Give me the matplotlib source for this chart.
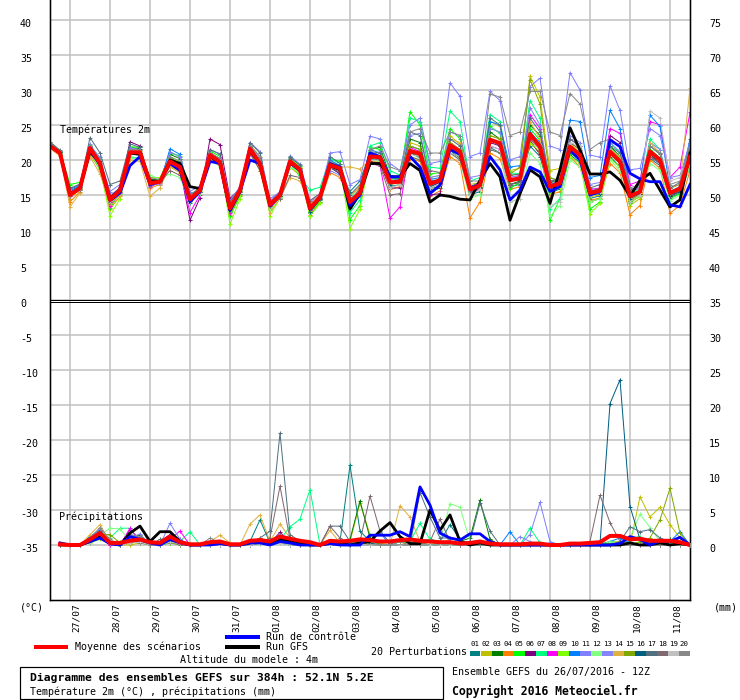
import numpy as np
import matplotlib
matplotlib.use("Agg")
import matplotlib.pyplot as plt
from matplotlib.lines import Line2D
from matplotlib.patches import Rectangle
from matplotlib.transforms import ScaledTranslation

# ---------------- data ----------------
HOURS = list(range(0, 385, 6))            # 65 steps, 26/07 12Z + 0..384h
HOURS_P = HOURS[1:]                       # precipitation accumulations (64 steps)
DATE_TICKS = [12 + 24 * k for k in range(16)]
DATE_LABELS = ["27/07", "28/07", "29/07", "30/07", "31/07", "01/08", "02/08", "03/08",
               "04/08", "05/08", "06/08", "07/08", "08/08", "09/08", "10/08", "11/08"]
LEFT_TICKS = list(range(-35, 41, 5))
RIGHT_TICKS = list(range(0, 76, 5))
MEMBER_NAMES = ["%02d" % k for k in range(1, 21)]
MEMBER_COLORS = ["#008080", "#c0c000", "#008000", "#ff8000", "#00ff00", "#800080",
                 "#00ff80", "#ff00ff", "#80ff00", "#0080ff", "#8080ff", "#80ff80",
                 "#8484f8", "#e0b040", "#80a800", "#006080", "#507080", "#806870",
                 "#c0c0c0", "#888888"]

# Temperature 2m (deg C)
T_MEAN = [22.0, 21.0, 15.0, 16.0, 21.7, 19.5, 14.3, 15.7,
          21.1, 21.1, 16.7, 16.9, 19.8, 19.0, 14.4, 15.7,
          20.7, 19.7, 13.1, 15.7, 21.6, 19.5, 13.6, 15.0,
          19.8, 18.6, 13.1, 14.7, 19.3, 18.8, 14.0, 15.3,
          20.5, 20.4, 16.8, 16.9, 21.3, 20.9, 16.6, 17.1,
          22.1, 21.2, 15.8, 16.4, 22.9, 22.4, 17.1, 17.4,
          23.7, 21.9, 16.2, 16.7, 21.9, 20.7, 15.3, 15.6,
          21.2, 19.8, 14.8, 15.5, 21.2, 20.0, 15.3, 15.9, 20.5]
T_CTRL = [22.0, 21.0, 15.2, 16.0, 21.5, 19.3, 14.2, 15.3,
          19.2, 20.5, 16.5, 16.9, 19.5, 18.5, 14.0, 15.5,
          19.8, 19.5, 12.8, 15.5, 20.0, 19.5, 13.4, 15.0,
          19.6, 18.5, 13.0, 14.8, 19.5, 19.0, 13.5, 15.0,
          21.0, 20.5, 17.6, 17.6, 20.5, 19.0, 15.2, 16.4,
          21.5, 20.8, 16.0, 16.5, 20.5, 18.6, 14.3, 15.7,
          19.0, 18.3, 15.5, 16.2, 21.4, 20.0, 15.0, 15.5,
          22.9, 21.9, 18.1, 17.3, 16.9, 16.9, 13.6, 13.3, 16.5]
T_GFS = [22.0, 21.0, 15.0, 16.0, 21.2, 19.5, 14.5, 15.8,
         21.0, 20.8, 17.0, 16.9, 20.0, 19.5, 16.2, 15.9,
         20.5, 19.5, 12.8, 15.5, 21.4, 19.3, 13.5, 15.0,
         19.8, 18.6, 13.0, 14.6, 19.2, 18.6, 13.0, 15.2,
         19.5, 19.5, 17.6, 17.6, 19.5, 18.5, 14.0, 15.0,
         14.8, 14.4, 14.3, 17.1, 19.5, 17.6, 11.4, 15.2,
         18.6, 17.6, 13.8, 18.6, 24.6, 21.4, 18.0, 18.0,
         18.3, 17.1, 14.8, 17.1, 18.1, 15.7, 13.3, 14.3, 21.0]

T_M01 = [22.3, 21.2, 15.6, 16.3, 21.5, 19.2, 14.8, 15.9, 20.8, 20.9, 16.2, 16.8, 20.4, 19.5, 13.9, 15.4,
         20.3, 19.6, 12.6, 15.2, 21.2, 19.7, 13.2, 14.8, 19.4, 18.2, 12.8, 14.5, 18.9, 18.1, 15.5, 17.0,
         21.0, 20.2, 16.2, 16.5, 22.0, 21.5, 15.8, 16.4, 21.4, 20.2, 15.0, 15.5, 21.8, 21.0, 16.2, 16.5,
         22.0, 20.5, 15.2, 15.9, 20.8, 19.6, 14.5, 14.9, 20.5, 19.0, 14.0, 14.8, 20.2, 19.2, 14.6, 15.3, 19.0]
T_M02 = [21.8, 20.9, 14.5, 15.8, 22.0, 19.8, 14.0, 15.5, 21.5, 21.3, 16.9, 17.0, 19.0, 18.2, 14.7, 15.9,
         21.2, 20.0, 13.5, 15.8, 22.2, 20.5, 13.0, 14.9, 20.3, 19.0, 13.5, 15.0, 19.8, 19.2, 13.4, 14.8,
         20.8, 20.6, 17.5, 17.2, 22.5, 22.0, 17.5, 17.8, 23.5, 22.2, 16.5, 16.8, 25.5, 24.8, 18.5, 18.8,
         32.0, 29.0, 18.5, 18.8, 22.5, 21.0, 14.8, 15.0, 20.8, 19.5, 13.5, 14.5, 22.0, 21.0, 16.0, 16.5, 22.0]
T_M03 = [22.1, 21.0, 15.3, 16.1, 21.3, 19.0, 13.8, 15.5, 21.8, 21.6, 17.2, 17.2, 20.8, 20.2, 14.1, 15.5,
         21.0, 20.2, 12.8, 15.4, 21.4, 19.2, 13.4, 15.1, 20.1, 18.9, 12.5, 14.3, 19.6, 18.5, 13.2, 14.9,
         21.5, 21.8, 17.8, 17.4, 23.0, 22.5, 15.5, 16.0, 21.0, 20.5, 15.2, 16.0, 24.0, 23.0, 16.5, 17.0,
         25.0, 23.5, 16.8, 17.2, 21.2, 20.1, 14.0, 14.5, 22.0, 20.5, 14.2, 15.0, 21.5, 20.3, 14.8, 16.0, 22.5]
T_M04 = [21.7, 20.6, 14.0, 15.5, 20.8, 18.7, 13.0, 14.8, 21.0, 20.7, 16.0, 16.5, 19.5, 18.8, 14.2, 15.8,
         20.0, 19.3, 12.2, 15.0, 21.0, 18.8, 13.8, 15.5, 19.0, 17.8, 12.2, 14.0, 18.2, 17.5, 14.8, 16.2,
         19.8, 19.7, 15.8, 16.2, 20.2, 19.8, 14.8, 15.6, 20.5, 19.5, 11.7, 14.0, 21.0, 20.2, 15.8, 16.2,
         22.5, 21.0, 15.0, 15.5, 20.5, 19.0, 14.2, 14.6, 19.5, 18.2, 12.2, 13.5, 20.0, 18.8, 12.4, 13.5, 18.5]
T_M05 = [22.4, 21.3, 16.5, 16.8, 22.2, 20.2, 13.2, 15.2, 21.9, 21.8, 17.0, 17.1, 21.0, 20.6, 15.0, 16.0,
         21.3, 20.5, 12.0, 14.8, 21.8, 20.0, 13.0, 14.7, 20.5, 19.2, 12.0, 14.0, 20.2, 19.8, 11.5, 13.5,
         21.8, 21.5, 17.2, 17.5, 26.9, 25.0, 18.0, 18.2, 24.5, 23.0, 15.5, 16.2, 24.8, 23.8, 16.0, 16.8,
         24.5, 22.8, 11.4, 14.5, 21.0, 20.0, 13.0, 14.0, 21.8, 20.2, 13.8, 15.0, 21.5, 20.2, 14.5, 15.2, 20.5]
T_M06 = [22.2, 21.1, 15.2, 16.2, 22.0, 19.6, 14.6, 16.0, 22.6, 22.0, 16.5, 16.9, 19.5, 18.8, 11.4, 14.6,
         23.0, 22.2, 14.5, 15.9, 21.9, 19.3, 13.5, 15.2, 19.5, 18.4, 13.3, 15.0, 19.0, 18.0, 13.8, 15.6,
         19.8, 19.5, 16.0, 16.0, 21.0, 20.5, 15.0, 15.2, 21.8, 21.0, 15.5, 16.0, 22.5, 22.0, 17.0, 17.2,
         22.8, 20.8, 15.8, 16.5, 23.0, 22.0, 15.5, 15.8, 23.5, 22.5, 15.5, 16.0, 20.5, 19.5, 14.8, 15.5, 20.0]
T_M07 = [22.0, 21.0, 15.5, 15.9, 21.2, 18.5, 14.0, 15.6, 20.5, 20.2, 16.8, 17.0, 20.0, 19.2, 14.5, 15.7,
         20.5, 19.5, 13.0, 15.5, 21.5, 19.5, 14.2, 15.0, 19.9, 17.5, 15.7, 16.1, 20.2, 19.5, 12.5, 14.3,
         22.0, 22.5, 18.5, 17.8, 26.0, 25.5, 19.0, 18.8, 27.0, 25.5, 17.0, 17.5, 26.5, 25.5, 18.2, 18.0,
         28.5, 26.0, 13.0, 14.5, 22.0, 20.5, 15.5, 16.0, 22.5, 21.0, 15.0, 16.0, 23.0, 21.5, 15.5, 16.2, 21.5]
T_M08 = [21.9, 20.9, 14.8, 15.8, 21.5, 19.3, 13.5, 15.3, 21.2, 21.0, 16.3, 16.7, 19.2, 18.5, 12.5, 15.0,
         21.0, 20.1, 12.5, 15.6, 20.8, 19.0, 13.2, 14.6, 20.0, 18.7, 12.9, 14.6, 19.5, 18.9, 13.5, 15.2,
         19.5, 19.2, 11.7, 13.3, 21.8, 21.2, 16.2, 16.8, 22.5, 21.5, 15.2, 15.8, 22.0, 21.5, 17.5, 17.8,
         26.5, 24.5, 16.5, 17.0, 21.5, 20.5, 15.8, 16.0, 24.5, 23.8, 16.5, 17.0, 25.5, 25.0, 17.5, 19.0, 26.8]
T_M09 = [22.1, 21.0, 15.1, 16.0, 21.0, 18.8, 12.0, 14.5, 21.3, 21.0, 17.5, 17.5, 20.5, 19.6, 14.8, 16.2,
         20.8, 19.8, 10.8, 14.5, 21.0, 19.8, 12.0, 14.6, 19.0, 18.0, 12.0, 13.8, 19.8, 19.0, 10.2, 13.0,
         20.3, 20.0, 16.5, 16.8, 20.5, 20.0, 16.8, 17.3, 21.5, 20.8, 16.0, 16.5, 22.8, 22.5, 17.8, 18.0,
         22.5, 21.2, 15.5, 16.0, 20.5, 19.5, 12.3, 13.8, 20.2, 19.0, 14.0, 14.8, 20.8, 19.8, 15.5, 16.0, 19.5]
T_M10 = [22.5, 21.3, 15.8, 16.4, 21.8, 19.9, 14.7, 16.1, 21.0, 20.9, 16.6, 16.8, 21.6, 20.8, 14.9, 16.0,
         20.4, 19.4, 13.5, 15.9, 21.7, 19.8, 14.0, 15.2, 19.6, 18.5, 13.0, 14.7, 20.0, 19.2, 14.5, 15.5,
         21.5, 21.0, 17.0, 17.2, 21.5, 21.0, 17.2, 17.5, 22.0, 21.2, 16.0, 16.8, 25.5, 25.0, 19.0, 19.2,
         24.0, 22.5, 16.5, 17.0, 25.7, 25.5, 17.5, 17.8, 27.1, 24.5, 15.5, 16.5, 26.4, 24.8, 16.0, 16.5, 23.0]
T_M11 = [21.8, 20.8, 15.4, 16.2, 22.3, 20.0, 15.5, 16.5, 21.7, 21.5, 16.4, 16.6, 21.2, 20.4, 15.5, 16.3,
         21.5, 20.9, 14.2, 16.2, 22.5, 21.2, 14.2, 15.5, 20.6, 19.4, 14.2, 15.2, 21.0, 21.2, 16.5, 17.2,
         23.4, 23.0, 19.5, 18.5, 25.0, 26.0, 19.5, 19.8, 31.0, 29.1, 20.5, 21.0, 29.8, 28.5, 20.0, 20.5,
         30.5, 31.7, 22.0, 21.5, 32.5, 30.0, 20.7, 20.4, 30.6, 27.1, 18.6, 18.8, 24.5, 23.5, 17.5, 17.8, 22.5]
T_M12 = [22.0, 20.9, 15.2, 15.7, 21.0, 19.0, 14.1, 15.4, 20.3, 20.0, 17.8, 17.3, 18.0, 17.5, 14.0, 15.2,
         20.2, 19.0, 13.3, 15.6, 21.3, 18.5, 12.8, 14.5, 19.0, 18.2, 13.2, 14.8, 19.0, 18.5, 14.8, 15.8,
         20.0, 19.8, 17.0, 17.0, 21.0, 20.2, 16.0, 16.5, 21.0, 20.0, 14.5, 15.0, 21.5, 21.0, 14.0, 14.5,
         21.0, 19.5, 12.0, 13.5, 20.0, 19.0, 14.0, 14.5, 20.0, 18.5, 14.5, 15.0, 19.5, 18.5, 14.2, 15.0, 19.2]
T_M13 = [22.2, 21.1, 15.9, 16.6, 22.0, 20.4, 15.0, 15.9, 21.4, 21.2, 17.0, 17.0, 19.6, 18.6, 14.6, 15.8,
         20.9, 20.0, 13.8, 16.0, 22.0, 20.3, 14.5, 15.4, 19.7, 18.7, 14.0, 15.0, 18.5, 17.8, 14.2, 15.0,
         20.5, 21.2, 17.5, 17.0, 23.5, 23.8, 17.5, 17.8, 24.0, 23.5, 17.5, 17.8, 24.5, 24.0, 17.5, 17.8,
         27.5, 25.0, 17.0, 17.5, 23.5, 22.5, 16.5, 16.8, 22.5, 21.2, 15.5, 16.0, 22.5, 21.5, 15.5, 16.2, 21.0]
T_M14 = [21.6, 20.7, 13.3, 15.3, 20.5, 18.0, 13.8, 15.0, 20.0, 19.8, 14.8, 16.0, 19.2, 18.2, 14.8, 16.2,
         20.2, 19.3, 13.6, 15.7, 21.0, 18.5, 12.5, 14.5, 17.5, 17.0, 13.6, 15.1, 18.8, 19.0, 19.0, 18.7,
         20.0, 19.5, 16.8, 16.5, 21.0, 20.5, 16.0, 16.5, 23.0, 22.5, 16.0, 16.5, 23.5, 23.0, 17.0, 17.5,
         25.5, 23.0, 16.0, 16.5, 22.5, 21.5, 15.0, 15.5, 21.5, 20.5, 14.5, 15.0, 22.5, 21.0, 16.0, 16.5, 30.3]
T_M15 = [22.1, 21.1, 15.0, 15.9, 21.6, 19.4, 14.4, 15.7, 21.1, 21.0, 16.7, 16.9, 19.8, 19.0, 14.2, 15.6,
         20.6, 19.6, 12.8, 15.6, 21.6, 19.4, 13.4, 14.9, 20.0, 18.8, 13.2, 14.8, 19.4, 18.8, 13.8, 15.2,
         20.6, 20.4, 16.8, 16.8, 22.0, 21.5, 16.5, 17.0, 22.5, 21.5, 16.0, 16.5, 23.5, 23.0, 18.0, 19.0,
         31.5, 28.0, 17.5, 17.0, 22.0, 21.0, 15.2, 15.5, 21.0, 19.5, 14.2, 15.0, 21.0, 19.8, 15.0, 15.5, 21.0]
T_M16 = [22.3, 21.2, 15.3, 16.0, 21.9, 19.8, 14.5, 15.8, 21.0, 20.8, 16.9, 17.0, 20.0, 19.3, 14.5, 15.9,
         20.8, 19.9, 13.3, 15.8, 21.6, 19.6, 13.6, 14.9, 19.8, 18.4, 12.6, 14.4, 19.1, 18.6, 13.8, 15.4,
         20.2, 20.0, 16.5, 16.9, 21.0, 20.4, 16.2, 16.8, 21.8, 21.0, 15.6, 16.2, 23.0, 22.0, 16.5, 16.8,
         23.5, 22.0, 16.0, 16.5, 21.5, 20.5, 15.0, 15.2, 21.0, 19.5, 14.5, 15.2, 20.8, 19.5, 15.0, 15.5, 20.0]
T_M17 = [22.6, 21.4, 16.0, 16.5, 23.2, 21.0, 16.5, 17.0, 22.3, 21.8, 17.2, 17.0, 20.2, 19.4, 15.0, 16.0,
         21.5, 20.8, 14.0, 16.0, 22.5, 21.0, 14.0, 15.3, 20.4, 19.3, 13.5, 14.6, 20.5, 19.5, 15.0, 16.5,
         21.2, 21.0, 17.0, 17.2, 24.0, 23.5, 17.0, 17.2, 23.0, 22.0, 16.2, 16.8, 26.0, 25.0, 17.8, 18.0,
         26.0, 24.0, 17.0, 17.2, 23.0, 22.0, 16.0, 16.5, 22.0, 21.0, 15.8, 16.2, 22.0, 20.8, 16.0, 16.8, 21.5]
T_M18 = [21.9, 20.8, 14.9, 15.7, 21.4, 19.2, 14.0, 15.5, 21.0, 20.8, 16.5, 16.8, 18.5, 17.8, 14.3, 15.5,
         20.5, 19.5, 13.0, 15.5, 21.0, 18.5, 13.5, 14.5, 17.8, 17.5, 14.2, 15.2, 19.0, 18.2, 14.0, 16.0,
         19.5, 19.2, 15.0, 15.2, 20.5, 20.0, 18.5, 18.2, 21.0, 20.0, 15.5, 16.0, 21.5, 21.0, 16.5, 16.8,
         23.0, 21.5, 16.2, 16.5, 22.5, 21.5, 15.5, 16.0, 21.0, 19.5, 15.0, 15.5, 20.5, 19.5, 15.2, 16.0, 20.0]
T_M19 = [21.8, 20.8, 15.0, 16.0, 21.6, 19.5, 14.2, 15.6, 21.3, 21.2, 16.7, 16.9, 19.8, 19.0, 14.4, 15.7,
         20.7, 19.7, 13.1, 15.7, 21.6, 19.5, 13.6, 15.0, 19.8, 18.6, 13.1, 14.7, 19.3, 18.8, 14.0, 15.3,
         20.0, 20.0, 16.0, 16.5, 20.8, 20.5, 16.0, 16.5, 21.0, 20.5, 15.0, 15.8, 22.0, 21.5, 14.0, 14.5,
         23.5, 22.0, 13.5, 14.0, 22.5, 22.0, 15.0, 15.5, 21.5, 20.0, 14.0, 15.0, 27.0, 26.0, 17.0, 17.5, 21.0]
T_M20 = [22.4, 21.3, 15.4, 16.2, 22.0, 20.0, 14.8, 15.8, 21.5, 21.5, 17.5, 17.2, 20.5, 19.8, 14.8, 16.0,
         21.0, 20.2, 13.5, 15.8, 22.0, 20.5, 14.0, 15.2, 20.0, 18.6, 13.0, 14.6, 19.7, 19.0, 14.2, 15.0,
         21.5, 22.0, 19.0, 18.5, 24.0, 24.5, 21.0, 21.0, 24.0, 23.5, 17.0, 17.0, 29.4, 29.0, 23.5, 24.0,
         29.8, 29.8, 24.0, 23.5, 29.5, 28.0, 21.5, 22.5, 23.0, 22.0, 16.0, 16.5, 22.0, 21.0, 16.5, 17.0, 22.0]

# Precipitation (mm), 6h steps from +6h
P_MEAN = [0.1, 0, 0, 0.8, 1.7, 0.3, 0.3, 0.6, 0.8, 0.4, 0.3, 1.2, 0.4, 0.1, 0.1,
          0.4, 0.5, 0.1, 0.1, 0.6, 0.7, 0.5, 1.2, 0.9, 0.6, 0.4, 0.0, 0.6, 0.5, 0.6, 0.8,
          0.7, 0.5, 0.5, 0.7, 0.8, 0.6, 0.5, 0.4, 0.4, 0.2, 0.3, 0.5, 0.2, 0.1, 0.1, 0.1,
          0.2, 0.2, 0.0, 0.0, 0.2, 0.2, 0.3, 0.4, 1.3, 1.3, 0.8, 0.9, 0.6, 0.6, 0.6, 0.4, 0.0]
P_CTRL = [0.3, 0, 0, 0.5, 1.0, 0.2, 0, 1.2, 0.8, 0.3, 0, 0.8, 0.3, 0, 0,
          0, 0.2, 0, 0, 0.3, 0.3, 0, 0.5, 0.3, 0, 0, 0, 0.2, 0, 0, 0,
          1.4, 1.4, 1.4, 1.9, 1.2, 8.3, 5.7, 1.7, 1.0, 0.7, 1.6, 1.6, 0.5, 0, 0, 0,
          0, 0, 0, 0, 0, 0, 0, 0, 0, 0.2, 1.2, 0.8, 0, 0.6, 0.5, 1.1, 0]
P_GFS = [0, 0, 0, 0.5, 1.2, 0.3, 0, 1.7, 2.7, 0.5, 1.9, 1.9, 0.5, 0, 0,
         0.2, 0.3, 0, 0, 0.3, 0.5, 0.2, 0.8, 0.5, 0.2, 0, 0, 0.3, 0.2, 0, 0.3,
         0.5, 2.0, 3.2, 1.2, 0.2, 0.2, 5.0, 2.1, 4.3, 0.5, 0, 0.3, 0, 0, 0, 0,
         0, 0, 0, 0, 0, 0, 0, 0, 0, 0, 0.3, 0, 0, 0.3, 0, 0.2, 0]

P_M01 = [0, 0, 0, 0.8, 1.5, 0.5, 0, 0.5, 1.2, 0.3, 0, 0.8, 0.5, 0, 0,
         0, 0.4, 0, 0, 0.5, 3.6, 0.3, 1.0, 0.5, 0, 0, 0, 0.3, 0.5, 11.4, 2.0,
         0.5, 0, 0, 0.5, 0.3, 0.5, 0.8, 0.5, 2.9, 0.8, 0, 0, 0, 0, 0, 0,
         0, 0, 0, 0, 0, 0, 0, 0, 0.5, 0.3, 0, 0, 0, 0, 0.3, 0.5, 0]
P_M02 = [0, 0, 0, 0.5, 1.2, 0.3, 0, 0, 0.3, 0, 0, 0.5, 0.3, 0, 0,
         0, 0, 0, 0, 0, 0.5, 0, 0.5, 0, 0, 0, 0, 0, 0, 0.5, 6.0,
         1.5, 0.3, 0, 0, 0, 0.3, 0, 0, 0, 0, 0, 0, 0, 0, 0, 0,
         0, 0, 0, 0, 0, 0, 0, 0.5, 0.3, 0, 0, 6.9, 4.0, 5.4, 2.9, 1.0, 0]
P_M03 = [0, 0, 0, 1.0, 2.0, 0.5, 0, 0.8, 1.5, 0, 0, 0.6, 0.3, 0, 0,
         0, 0, 0, 0, 0.2, 0.6, 0, 0.8, 0.3, 0, 0, 0, 0, 0.3, 0.8, 6.3,
         1.0, 0, 0, 0, 0, 0, 0, 0, 0, 0.5, 1.0, 6.4, 0.8, 0, 0, 0,
         0, 0, 0, 0, 0, 0, 0, 0, 0, 0, 0, 0, 0.5, 0, 0.8, 0.3, 0]
P_M04 = [0, 0, 0, 0.5, 1.4, 0, 0, 0.3, 0.8, 0, 0, 1.0, 0.3, 0, 0,
         0, 0.5, 0, 0, 0.3, 1.0, 0, 0.5, 0.2, 0, 0, 0, 0.5, 0, 0, 0.5,
         0.3, 0, 0, 0, 0.5, 0, 0, 0, 0, 0, 0, 0, 0, 0, 0, 0,
         0, 0, 0, 0, 0, 0, 0, 0, 0.3, 0.5, 0, 0, 0.3, 0, 0, 0, 0]
P_M05 = [0, 0, 0, 0.8, 1.8, 0.3, 0, 0.5, 0.4, 0, 0, 0.5, 0.3, 0, 0,
         0, 0, 0, 0, 0, 0.4, 0, 0.3, 0, 0, 0, 0, 0, 0, 0.5, 0.8,
         0.5, 0, 0, 0.5, 0.3, 0, 0, 0, 0, 0, 0, 0, 0, 0, 0, 0,
         0, 0, 0, 0, 0, 0, 0, 0, 0, 0, 0.5, 1.0, 0, 0, 0, 0, 0]
P_M06 = [0, 0, 0, 0.5, 1.3, 0.4, 0, 2.2, 0.8, 0, 0.5, 1.5, 0.8, 0, 0,
         0, 0, 0, 0, 0, 0.3, 0.3, 1.8, 0.5, 0, 0, 0, 0.5, 0.3, 0, 0,
         0, 0, 0, 0, 0, 0, 0.5, 0, 0, 0, 0, 0, 0, 0, 0, 0,
         0, 0, 0, 0, 0, 0, 0, 0, 0, 0, 0, 0, 0.5, 0, 0, 0, 0]
P_M07 = [0, 0, 0, 0.5, 1.5, 1.0, 2.4, 2.4, 0.5, 0, 0, 0.3, 0.5, 1.9, 0,
         0, 0, 0, 0, 0.3, 0.5, 0.2, 0.8, 2.6, 3.7, 7.9, 0, 0, 0, 0, 0.3,
         0, 0, 0, 0.5, 0.5, 3.1, 0.8, 0, 0, 0, 0, 0, 0, 0, 0, 0,
         2.4, 0.3, 0, 0, 0, 0, 0, 0.5, 0, 0, 1.0, 1.2, 0.5, 0, 0, 0, 0]
P_M08 = [0, 0, 0, 0.5, 1.0, 0, 0, 2.4, 0.5, 0, 0, 0.8, 2.0, 0, 0,
         0, 0, 0, 0, 0, 0.3, 0, 0.5, 0, 0, 0, 0, 0, 0, 0, 0,
         0, 0, 0, 0, 0, 0, 0, 0, 0, 0, 0, 0, 0, 0, 0, 0,
         0, 0, 0, 0, 0, 0, 0, 0, 0, 0, 0, 0, 0, 0, 0, 0, 0]
P_M09 = [0, 0, 0, 0.3, 0.8, 0.3, 0.5, 0.4, 0.3, 0, 0, 0.5, 0.3, 0.2, 0,
         0, 0, 0, 0, 0, 0.3, 0, 0.3, 0, 0, 0, 0, 0, 0, 0.4, 0.5,
         0.3, 0, 0, 0, 0, 0.5, 0, 0, 0, 0, 0, 0, 0, 0, 0, 0,
         0, 0, 0, 0, 0, 0, 0, 0, 0.3, 0.5, 0, 0.5, 0.8, 0, 0, 0, 0]
P_M10 = [0, 0, 0, 1.2, 2.2, 0.3, 0, 1.5, 1.0, 0.5, 0, 0.6, 0.3, 0, 0,
         0, 0, 0, 0, 0, 0.5, 0, 0.5, 0, 0, 0, 0, 0, 0, 0, 0.5,
         0.5, 1.8, 0, 0, 0, 0, 0, 0, 0, 0, 0, 0, 0, 0, 1.9, 0,
         0, 0, 0, 0, 0, 0, 0, 0, 0.5, 1.0, 0.3, 0, 0, 0, 0.5, 1.9, 0]
P_M11 = [0, 0, 0, 0.8, 2.4, 0.5, 0, 0.5, 0.8, 0, 0, 3.1, 0.8, 0, 0,
         0, 0, 0, 0, 0, 0.3, 0, 0.5, 0, 0, 0, 0, 0, 0, 0, 0,
         0, 0, 0, 0, 0, 0, 0, 0, 0, 0, 0, 0, 0, 0, 0, 0,
         1.5, 6.1, 0.5, 0, 0, 0, 0, 0, 0, 0, 0, 0, 0, 0, 0, 0, 0]
P_M12 = [0, 0, 0, 0.5, 1.4, 2.4, 2.3, 0.5, 0.3, 0, 0, 0.4, 0, 0, 0,
         0, 0, 0, 0, 0, 0.2, 0, 0.3, 0, 0, 0, 0, 0, 0, 0, 0,
         0, 0, 0, 0, 0, 0, 0, 0.5, 5.9, 5.4, 0.5, 0, 0, 0, 0, 0,
         0, 0, 0, 0, 0, 0, 0, 0, 0.5, 0.3, 1.0, 4.4, 2.5, 0.5, 0.3, 0, 0]
P_M13 = [0, 0, 0, 0.6, 1.6, 0.3, 0, 1.0, 1.6, 0, 0, 1.4, 0.6, 0, 0,
         0, 0, 0, 0, 0, 0.3, 0, 0.3, 0, 0, 0, 0, 0, 0, 0, 0,
         0, 0, 0, 0, 0, 0, 0, 0, 0, 0, 0, 0, 0, 0, 0, 1.2,
         0.5, 0, 0, 0, 0, 0, 0, 0, 0, 0, 0, 0, 0, 0, 0, 0, 0]
P_M14 = [0, 0, 0, 1.5, 2.9, 0.5, 0, 0.3, 0.5, 0, 0, 0.5, 0.3, 0, 0,
         0.5, 1.4, 0.3, 0, 3.0, 4.3, 0.5, 3.0, 1.0, 0, 0, 0, 2.1, 0.3, 0.5, 0.3,
         0, 0, 0, 5.6, 4.0, 0.5, 0, 0, 0, 0, 0, 0, 0, 0, 0, 0,
         0, 0, 0, 0, 0, 0, 0, 0, 0, 0.5, 0, 0, 0, 0, 0, 0, 0]
P_M15 = [0, 0, 0, 0.8, 1.5, 1.5, 0.3, 0.3, 0.5, 0, 0, 0.3, 0, 0, 0,
         0, 0, 0, 0, 0, 0.5, 0, 0.5, 0, 0, 0, 0, 0, 0, 0.3, 0.5,
         0, 0, 0, 0, 0, 0, 0, 0, 0, 0, 0, 0, 0, 0, 0, 0,
         0, 0, 0, 0, 0, 0, 0, 0, 0, 0, 0, 0.5, 1.0, 3.6, 8.1, 1.7, 0]
P_M16 = [0, 0, 0, 0.5, 1.2, 0.3, 0, 0.4, 1.0, 0, 0, 0.5, 0.3, 0, 0,
         0, 0, 0, 0, 0, 0.3, 0, 0.5, 0, 0, 0, 0, 0, 0, 0, 0.5,
         0.3, 0, 0, 0, 0, 0, 0, 0, 0, 0, 0, 0, 0, 0, 0, 0,
         0, 0, 0, 0, 0, 0, 0, 0.2, 20.2, 23.6, 5.5, 0.8, 0.5, 0, 0, 0, 0]
P_M17 = [0, 0, 0, 0.8, 2.0, 0.5, 0, 0.5, 0.5, 0, 0.8, 1.0, 0.3, 0, 0,
         0, 0, 0, 0, 0.3, 1.0, 2.0, 16.0, 1.5, 0.5, 0, 0, 2.7, 2.7, 0.5, 0.5,
         0, 0, 0, 0, 0, 7.5, 4.0, 1.0, 1.0, 0.5, 0.5, 6.0, 2.0, 0, 0, 0,
         0, 0, 0, 0, 0, 0, 0, 0, 0, 0.5, 2.6, 1.9, 2.2, 1.0, 0.5, 0, 0]
P_M18 = [0, 0, 0, 0.5, 1.0, 0.3, 0, 0.5, 0.3, 0, 0, 0.5, 0, 0, 0,
         0, 0, 0, 0, 0, 0.3, 1.0, 8.4, 0.8, 0, 0, 0, 2.7, 1.0, 0, 0.5,
         7.0, 2.0, 0.3, 0, 0, 0, 0.5, 3.7, 0.5, 0, 0, 0, 0, 0, 0, 0,
         0, 0, 0, 0, 0, 0, 0.5, 7.1, 3.2, 0.5, 0, 0, 0, 0, 0, 0, 0]
P_M19 = [0, 0, 0, 0.5, 1.2, 0.3, 0, 0.3, 0.4, 0, 0, 0.4, 0.2, 0, 0,
         0, 0, 0, 0, 0, 0.3, 0, 0.3, 0, 0, 0, 0, 0, 0, 0, 0,
         0, 0, 0, 0, 0, 0, 0, 0, 0, 0, 0, 0, 0, 0, 0, 0,
         0, 0, 0, 0, 0, 0, 0, 0, 0, 0, 0, 0, 0, 0, 0, 0, 0]
P_M20 = [0, 0, 0, 1.0, 2.5, 0.8, 0, 1.5, 1.2, 0, 0, 0.8, 0.5, 0, 0,
         1.0, 0.3, 0, 0, 0.5, 0.8, 0.3, 1.5, 0.5, 0, 0, 0, 0.5, 0.3, 0, 0.3,
         0.5, 0, 0, 0.5, 0, 0, 5.0, 2.0, 0.5, 0, 0, 0, 0, 0, 0, 0,
         0, 0, 0, 0, 0, 0, 0, 0, 0, 0, 0, 0, 0, 0, 0, 0, 0]

T_MEMBERS = [T_M01, T_M02, T_M03, T_M04, T_M05, T_M06, T_M07, T_M08, T_M09, T_M10,
             T_M11, T_M12, T_M13, T_M14, T_M15, T_M16, T_M17, T_M18, T_M19, T_M20]
P_MEMBERS = [P_M01, P_M02, P_M03, P_M04, P_M05, P_M06, P_M07, P_M08, P_M09, P_M10,
             P_M11, P_M12, P_M13, P_M14, P_M15, P_M16, P_M17, P_M18, P_M19, P_M20]

# ---------------- figure ----------------
W, H = 740, 700
plt.rcParams["font.family"] = ["DejaVu Sans Mono", "DejaVu Sans"]
plt.rcParams["font.size"] = 7.2

fig = plt.figure(figsize=(W / 100, H / 100), dpi=100)
fig.patch.set_facecolor("white")


def fx(x):
    return x / W


def fy(y):
    return 1 - y / H


PX = 0.72  # one pixel in points

ax = fig.add_axes([50 / W, 100 / H, 640 / W, 600 / H])
ax.set_xlim(0, 384)
ax.set_ylim(-300 / 7, 300 / 7)          # temperature scale (left)
axp = ax.twinx()
axp.set_ylim(-55 / 7, 545 / 7)           # precipitation scale (right, mm)

for a in (ax, axp):
    a.spines["top"].set_visible(False)
    for s in ("left", "right", "bottom"):
        a.spines[s].set_linewidth(1.3 * PX)
        a.spines[s].set_color("black")

# grid
ax.set_yticks(LEFT_TICKS)
ax.set_yticklabels([str(v) for v in LEFT_TICKS])
ax.set_xticks(DATE_TICKS)
ax.set_xticklabels(DATE_LABELS, rotation=90, fontsize=6.8)
ax.grid(True, color="#c0c0c0", lw=1.5 * PX)
ax.set_axisbelow(True)
ax.tick_params(axis="y", length=0, pad=30 * PX, labelsize=7.2)
ax.tick_params(axis="x", length=0, pad=3 * PX)
for lab in ax.get_yticklabels():
    lab.set_horizontalalignment("left")
    lab.set_transform(lab.get_transform() + ScaledTranslation(0, -3 / 100, fig.dpi_scale_trans))
for lab in ax.get_xticklabels():
    lab.set_transform(lab.get_transform() + ScaledTranslation(6.7 / 100, 0, fig.dpi_scale_trans))

axp.set_yticks(RIGHT_TICKS)
axp.set_yticklabels([str(v) for v in RIGHT_TICKS])
axp.tick_params(axis="y", length=0, pad=19 * PX, labelsize=7.2)
for lab in axp.get_yticklabels():
    lab.set_transform(lab.get_transform() + ScaledTranslation(0, -3 / 100, fig.dpi_scale_trans))

# double separator line at 0
ax.axhline(0.07, color="black", lw=1.0 * PX, zorder=2)
ax.axhline(-0.29, color="black", lw=1.0 * PX, zorder=2)

# members
for k in range(20):
    c = MEMBER_COLORS[k]
    ax.plot(HOURS, T_MEMBERS[k], color=c, lw=1.0 * PX, marker="+", ms=3, mew=0.7, zorder=3)
    axp.plot(HOURS_P, P_MEMBERS[k], color=c, lw=1.0 * PX, marker="+", ms=3, mew=0.7, zorder=3)

# GFS, control, mean
ax.plot(HOURS, T_GFS, color="black", lw=2.8 * PX, zorder=4)
ax.plot(HOURS, T_CTRL, color="#0000ff", lw=2.8 * PX, zorder=5)
ax.plot(HOURS, T_MEAN, color="#ff0000", lw=4.0 * PX, zorder=6)
axp.plot(HOURS_P, P_GFS, color="black", lw=2.8 * PX, zorder=4)
axp.plot(HOURS_P, P_CTRL, color="#0000ff", lw=2.8 * PX, zorder=5)
axp.plot(HOURS_P, P_MEAN, color="#ff0000", lw=4.0 * PX, zorder=6)

# panel titles
fig.text(fx(60), fy(130), "Températures 2m", ha="left", va="center", fontsize=7.2)
fig.text(fx(59), fy(517), "Précipitations", ha="left", va="center", fontsize=7.2)
fig.text(fx(20), fy(607), "(°C)", ha="left", va="center", fontsize=7.2)
fig.text(fx(714), fy(607), "(mm)", ha="left", va="center", fontsize=7.2)

# legend
fig.add_artist(Line2D([fx(35.6), fx(66.4)], [fy(646.7), fy(646.7)], color="#ff0000",
                      lw=4 * PX, transform=fig.transFigure))
fig.text(fx(75), fy(647), "Moyenne des scénarios", ha="left", va="center", fontsize=7.2)
fig.add_artist(Line2D([fx(226.8), fx(257.6)], [fy(637.3), fy(637.3)], color="#0000ff",
                      lw=4 * PX, transform=fig.transFigure))
fig.text(fx(265.7), fy(637), "Run de contrôle", ha="left", va="center", fontsize=7.2)
fig.add_artist(Line2D([fx(226.8), fx(257.6)], [fy(646.7), fy(646.7)], color="black",
                      lw=4 * PX, transform=fig.transFigure))
fig.text(fx(265.7), fy(647), "Run GFS", ha="left", va="center", fontsize=7.2)
fig.text(fx(180), fy(660), "Altitude du modele : 4m", ha="left", va="center", fontsize=7.2)
fig.text(fx(371.4), fy(652), "20 Perturbations", ha="left", va="center", fontsize=7.2)

for k in range(20):
    x0 = 470 + 11 * k
    fig.add_artist(Rectangle((fx(x0), fy(655.5)), 10.5 / W, 5 / H, facecolor=MEMBER_COLORS[k],
                             edgecolor="none", transform=fig.transFigure))
    fig.text(fx(x0 + 5.25), fy(644), MEMBER_NAMES[k], ha="center", va="center", fontsize=5.3)

# bottom info box
fig.add_artist(Rectangle((fx(20), fy(699)), 422.6 / W, 32 / H, facecolor="none",
                         edgecolor="black", lw=1.2 * PX, transform=fig.transFigure))
fig.text(fx(30), fy(677.7), "Diagramme des ensembles GEFS sur 384h : 52.1N 5.2E",
         ha="left", va="center", fontsize=8.2, fontweight="bold")
fig.text(fx(30), fy(691.7), "Température 2m (°C) , précipitations (mm)",
         ha="left", va="center", fontsize=7.2)
fig.text(fx(452), fy(671.7), "Ensemble GEFS du 26/07/2016 - 12Z",
         ha="left", va="center", fontsize=7.2)
fig.text(fx(452), fy(691.7), "Copyright 2016 Meteociel.fr",
         ha="left", va="center", fontsize=8.3, fontweight="bold")

fig.savefig("out.png", dpi=100, facecolor="white")
